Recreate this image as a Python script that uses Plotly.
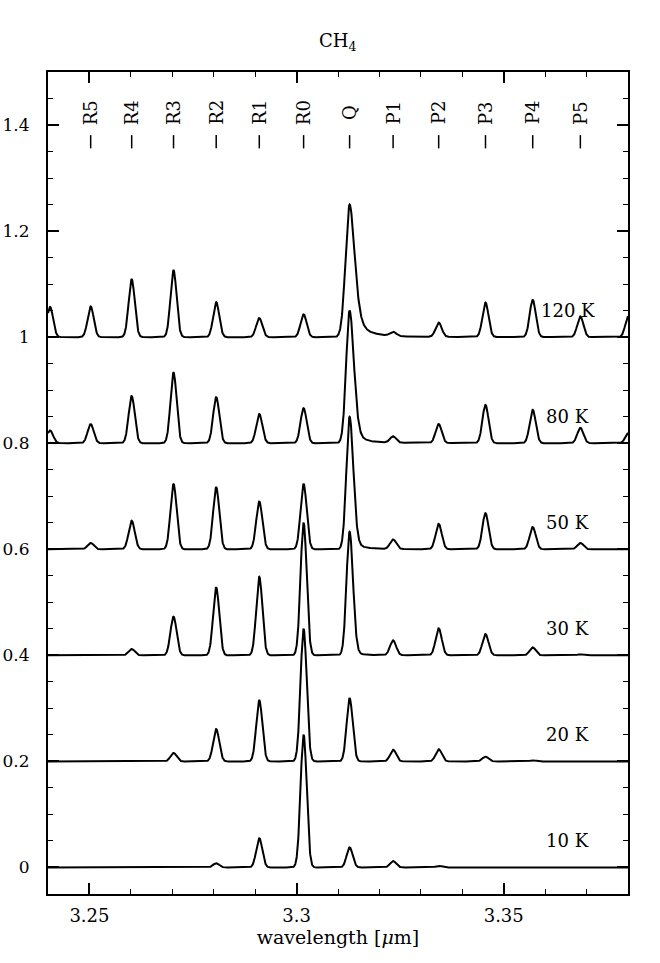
import numpy as np
import plotly.graph_objects as go

# ---------------- data ----------------
# CH4 nu3 rotational lines (wavelength, micron)
line_names = ["R6", "R5", "R4", "R3", "R2", "R1", "R0", "Q", "P1", "P2", "P3", "P4", "P5", "P6"]
line_positions = [3.2405, 3.2503, 3.2602, 3.2703, 3.2806, 3.2910, 3.3017, 3.3128,
                  3.3233, 3.3343, 3.3456, 3.3570, 3.3685, 3.3801]
labelled_lines = ["R5", "R4", "R3", "R2", "R1", "R0", "Q", "P1", "P2", "P3", "P4", "P5"]

temperatures = ["10 K", "20 K", "30 K", "50 K", "80 K", "120 K"]
offsets = [0.0, 0.2, 0.4, 0.6, 0.8, 1.0]

# peak heights (order of line_names)
amp_10K = [0, 0, 0, 0, 0.008, 0.055, 0.25, 0.038, 0.012, 0.003, 0, 0, 0, 0]
amp_20K = [0, 0, 0, 0.016, 0.061, 0.115, 0.25, 0.119, 0.022, 0.023, 0.009, 0.002, 0, 0]
amp_30K = [0, 0, 0.012, 0.073, 0.128, 0.148, 0.25, 0.233, 0.028, 0.051, 0.040, 0.015, 0.002, 0]
amp_50K = [0, 0.012, 0.054, 0.123, 0.117, 0.090, 0.123, 0.25, 0.018, 0.048, 0.068, 0.042, 0.012, 0]
amp_80K = [0.024, 0.036, 0.089, 0.133, 0.087, 0.055, 0.066, 0.25, 0.012, 0.036, 0.072, 0.063, 0.029, 0.020]
amp_120K = [0.057, 0.058, 0.109, 0.126, 0.066, 0.036, 0.043, 0.25, 0.008, 0.027, 0.065, 0.070, 0.039, 0.040]
amplitudes = [amp_10K, amp_20K, amp_30K, amp_50K, amp_80K, amp_120K]

# Q-branch shape per temperature (blue sigma, red half width, Lorentz fraction of red wing)
q_blue_sigma = [0.00072, 0.00072, 0.00075, 0.00078, 0.00083, 0.00097]
q_red_hwhm = [0.00088, 0.00088, 0.00098, 0.00108, 0.00125, 0.00150]
q_lorentz_frac = [0.0, 0.0, 0.1, 0.2, 0.3, 0.5]
line_sigma = 0.00074

x_tick_values = [3.25, 3.3, 3.35]
x_tick_labels = ["3.25", "3.3", "3.35"]
y_tick_values = [0, 0.2, 0.4, 0.6, 0.8, 1.0, 1.2, 1.4]
y_tick_labels = ["0", "0.2", "0.4", "0.6", "0.8", "1", "1.2", "1.4"]

x_range = [3.24, 3.38]
y_range = [-0.05, 1.5]

# ---------------- build ----------------
FONT = "DejaVu Serif"
wl = np.linspace(x_range[0], x_range[1], 2801)


def spectrum(k):
    y = np.zeros_like(wl)
    for name, pos, a in zip(line_names, line_positions, amplitudes[k]):
        dx = wl - pos
        if name == "Q":
            s = q_blue_sigma[k]
            w = q_red_hwhm[k]
            eta = q_lorentz_frac[k]
            blue = np.exp(-0.5 * (dx / s) ** 2)
            u = (dx / w) ** 2
            red = (1 - eta) * np.exp(-np.log(2) * u) + eta / (1 + u)
            y += a * np.where(dx < 0, blue, red)
        else:
            y += a * np.exp(-0.5 * (dx / line_sigma) ** 2)
    return y + offsets[k]


fig = go.Figure()
for k in range(len(temperatures)):
    fig.add_trace(go.Scatter(x=wl, y=spectrum(k), mode="lines",
                             line=dict(color="black", width=2), hoverinfo="skip"))

# small markers under branch labels
mx, my = [], []
for name in labelled_lines:
    p = line_positions[line_names.index(name)]
    mx += [p, p, None]
    my += [1.356, 1.381, None]
fig.add_trace(go.Scatter(x=mx, y=my, mode="lines", line=dict(color="black", width=1.5),
                         hoverinfo="skip"))

annotations = []
for name in labelled_lines:
    p = line_positions[line_names.index(name)]
    annotations.append(dict(x=p, y=1.4236, text=name, textangle=-90, showarrow=False,
                            xref="x", yref="y", font=dict(family=FONT, size=18, color="black")))
for t, off in zip(temperatures, offsets):
    annotations.append(dict(x=3.3655, y=off + 0.05, text=t, showarrow=False,
                            xref="x", yref="y", font=dict(family=FONT, size=18, color="black")))
# title
annotations.append(dict(x=0.5, xref="paper", xanchor="center", y=1 + 30 / 822, yref="paper",
                        yanchor="middle", text="CH<sub>4</sub>", showarrow=False,
                        font=dict(family=FONT, size=18, color="black")))

axis_common = dict(showgrid=False, zeroline=False, showline=True, linecolor="black",
                   linewidth=2, ticks="inside", tickcolor="black", tickwidth=1.5,
                   ticklen=11, mirror="allticks", automargin=False)

fig.update_layout(
    width=660, height=963,
    margin=dict(l=48, r=32, t=72, b=69, autoexpand=False),
    plot_bgcolor="white", paper_bgcolor="white",
    showlegend=False,
    hovermode=False,
    font=dict(family=FONT, size=18, color="black"),
    annotations=annotations,
    xaxis=dict(range=x_range, tickmode="array", tickvals=x_tick_values, ticktext=x_tick_labels,
               minor=dict(tickmode="linear", tick0=3.24, dtick=0.01, ticks="inside",
                          ticklen=5, tickwidth=1, tickcolor="black"),
               ticklabelstandoff=4,
               tickfont=dict(family=FONT, size=18, color="black"),
               title=dict(text="wavelength [<i>μ</i>m]", standoff=2,
                          font=dict(family=FONT, size=19, color="black")),
               **axis_common),
    yaxis=dict(range=y_range, tickmode="array", tickvals=y_tick_values, ticktext=y_tick_labels,
               minor=dict(tickmode="linear", tick0=0, dtick=0.05, ticks="inside",
                          ticklen=5, tickwidth=1, tickcolor="black"),
               ticklabelstandoff=13,
               tickfont=dict(family=FONT, size=17, color="black"),
               **axis_common),
)

fig.write_html("out.html", config={"displayModeBar": False},
               post_script="document.body.style.margin='0';")
